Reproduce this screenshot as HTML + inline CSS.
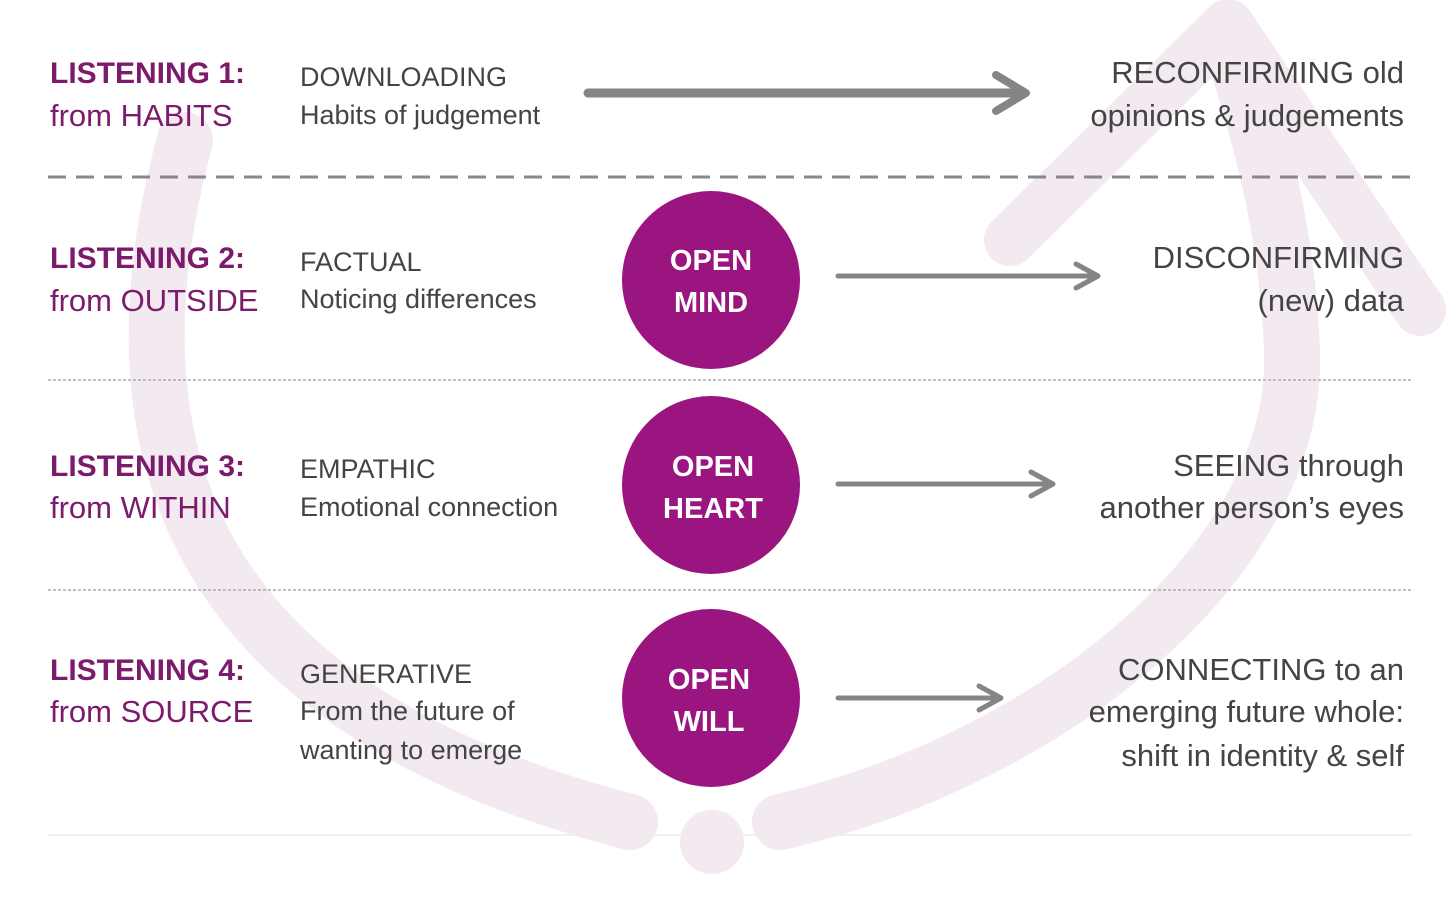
<!DOCTYPE html>
<html><head><meta charset="utf-8"><style>
body{margin:0;background:#fff;}
svg text{font-family:"Liberation Sans",sans-serif;}
</style></head><body>
<svg width="1456" height="914" viewBox="0 0 1456 914" xmlns="http://www.w3.org/2000/svg">
<g fill="none" stroke="#f3e9f0" stroke-linecap="round" stroke-linejoin="round">
<path d="M185,140 C110,420 160,700 630,822" stroke-width="56"/>
<path d="M780,822 C1050,760 1300,560 1292,350 C1287,220 1255,120 1230,40" stroke-width="56"/>
<polyline points="1010,240 1228,25 1420,310" stroke-width="52"/>
</g>
<circle cx="712" cy="842" r="32" fill="#f3e9f0"/>
<g stroke="#888" fill="none">
<line x1="48" y1="177" x2="1412" y2="177" stroke-width="3" stroke-dasharray="18,10"/>
<line x1="48" y1="380" x2="1412" y2="380" stroke-width="1.5" stroke-dasharray="3,2" stroke="#aaa"/>
<line x1="48" y1="590" x2="1412" y2="590" stroke-width="1.5" stroke-dasharray="3,2" stroke="#aaa"/>
<line x1="48" y1="835" x2="1412" y2="835" stroke-width="1.5" stroke="#ececec"/>
</g>
<g stroke="#858585" fill="none" stroke-linecap="round" stroke-linejoin="round">
<line x1="588" y1="93" x2="1024" y2="93" stroke-width="9"/>
<polyline points="996,75 1026,93 996,111" stroke-width="8"/>
<line x1="838" y1="276" x2="1096" y2="276" stroke-width="5"/>
<polyline points="1076,264 1098,276 1076,288" stroke-width="5"/>
<line x1="838" y1="484" x2="1051" y2="484" stroke-width="5"/>
<polyline points="1031,472 1053,484 1031,496" stroke-width="5"/>
<line x1="838" y1="698" x2="999" y2="698" stroke-width="5"/>
<polyline points="979,686 1001,698 979,710" stroke-width="5"/>
</g>
<g fill="#9b1580">
<circle cx="711" cy="280" r="89"/>
<circle cx="711" cy="485" r="89"/>
<circle cx="711" cy="698" r="89"/>
</g>
<g fill="#fff" font-weight="bold" font-size="29" text-anchor="middle">
<text x="711" y="270">OPEN</text><text x="711" y="312">MIND</text>
<text x="713" y="476">OPEN</text><text x="713" y="518">HEART</text>
<text x="709" y="689">OPEN</text><text x="709" y="731">WILL</text>
</g>
<g fill="#7c1a6b" font-size="31">
<text x="50" y="83" font-weight="bold" font-size="30">LISTENING 1:</text><text x="50" y="126">from HABITS</text>
<text x="50" y="268" font-weight="bold" font-size="30">LISTENING 2:</text><text x="50" y="311">from OUTSIDE</text>
<text x="50" y="476" font-weight="bold" font-size="30">LISTENING 3:</text><text x="50" y="518">from WITHIN</text>
<text x="50" y="680" font-weight="bold" font-size="30">LISTENING 4:</text><text x="50" y="722">from SOURCE</text>
</g>
<g fill="#444" font-size="27">
<text x="300" y="86">DOWNLOADING</text><text x="300" y="124">Habits of judgement</text>
<text x="300" y="271">FACTUAL</text><text x="300" y="308">Noticing differences</text>
<text x="300" y="478">EMPATHIC</text><text x="300" y="516">Emotional connection</text>
<text x="300" y="683">GENERATIVE</text><text x="300" y="720">From the future of</text><text x="300" y="759">wanting to emerge</text>
</g>
<g fill="#444" font-size="31" text-anchor="end">
<text x="1404" y="83">RECONFIRMING old</text><text x="1404" y="126">opinions &amp; judgements</text>
<text x="1404" y="268">DISCONFIRMING</text><text x="1404" y="311">(new) data</text>
<text x="1404" y="476">SEEING through</text><text x="1404" y="518">another person’s eyes</text>
<text x="1404" y="680">CONNECTING to an</text><text x="1404" y="722">emerging future whole:</text><text x="1404" y="766">shift in identity &amp; self</text>
</g>
</svg>
</body></html>
